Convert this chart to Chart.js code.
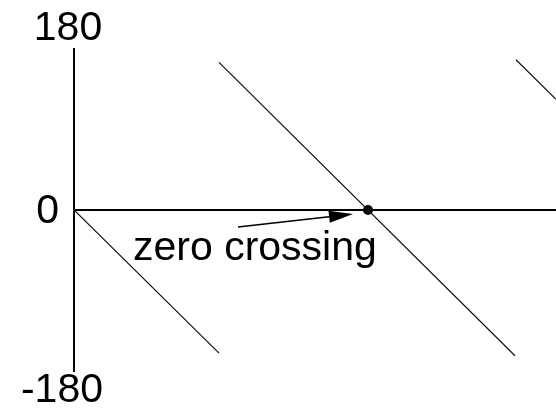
<!DOCTYPE html>
<html>
<head>
<meta charset="utf-8">
<script src="https://cdn.jsdelivr.net/npm/chart.js@4"></script>
<style>
html,body{margin:0;padding:0;background:#fff;}
#wrap{width:556px;height:410px;position:relative;}
</style>
</head>
<body>
<div id="wrap"><canvas id="c" width="556" height="410"></canvas></div>
<script>
// Phase (degrees) vs. frequency (arbitrary units) — sawtooth wrapping at ±180
const yTickLabels = ["180", "0", "-180"];
const yTickValues = [180, 0, -180];
const segX1 = [0, 145];   const segY1 = [0, -159];
const segX2 = [145, 441]; const segY2 = [164, -162];
const segX3 = [442, 482]; const segY3 = [167, 123];
const crossingX = [294];  const crossingY = [0];
const annotationText = "zero crossing";
const arrowFrom = [164, -19];
const arrowTo = [279, -4.5];
const textAt = [59, -56];

const toPts = (xs, ys) => xs.map((x, i) => ({x, y: ys[i]}));
const lineDs = (xs, ys) => ({
  type: 'line', data: toPts(xs, ys), borderColor: '#111', borderWidth: 1.2,
  pointRadius: 0, fill: false, tension: 0
});

const axesPlugin = {
  id: 'axesPlugin',
  beforeDatasetsDraw(chart) {
    const {ctx, chartArea: a, scales: {x, y}} = chart;
    ctx.save();
    ctx.strokeStyle = '#000';
    ctx.lineWidth = 2;
    ctx.beginPath();
    const x0 = x.getPixelForValue(0);
    ctx.moveTo(x0, a.top); ctx.lineTo(x0, a.bottom);
    const y0 = y.getPixelForValue(0);
    ctx.moveTo(a.left, y0); ctx.lineTo(a.right, y0);
    ctx.stroke();
    ctx.restore();
  },
  afterDatasetsDraw(chart) {
    const {ctx, scales: {x, y}} = chart;
    ctx.save();
    ctx.fillStyle = '#000';
    ctx.font = '41px "Liberation Sans", Arial, sans-serif';
    ctx.textBaseline = 'alphabetic';
    const x0 = x.getPixelForValue(0);
    ctx.textAlign = 'center';
    ctx.fillText(yTickLabels[0], x0 - 6, y.getPixelForValue(yTickValues[0]) - 8);
    ctx.textAlign = 'right';
    ctx.fillText(yTickLabels[1], x0 - 15, y.getPixelForValue(yTickValues[1]) + 13);
    ctx.textAlign = 'right';
    ctx.fillText(yTickLabels[2], x0 + 29, y.getPixelForValue(yTickValues[2]) + 30);
    ctx.textAlign = 'left';
    ctx.fillText(annotationText, x.getPixelForValue(textAt[0]), y.getPixelForValue(textAt[1]));
    const ax1 = x.getPixelForValue(arrowFrom[0]), ay1 = y.getPixelForValue(arrowFrom[1]);
    const ax2 = x.getPixelForValue(arrowTo[0]), ay2 = y.getPixelForValue(arrowTo[1]);
    const ang = Math.atan2(ay2 - ay1, ax2 - ax1);
    const hl = 24, hw = 6;
    ctx.strokeStyle = '#000';
    ctx.lineWidth = 1.5;
    ctx.beginPath();
    ctx.moveTo(ax1, ay1);
    ctx.lineTo(ax2 - Math.cos(ang) * hl, ay2 - Math.sin(ang) * hl);
    ctx.stroke();
    ctx.beginPath();
    ctx.moveTo(ax2, ay2);
    ctx.lineTo(ax2 - Math.cos(ang) * hl - Math.sin(ang) * hw, ay2 - Math.sin(ang) * hl + Math.cos(ang) * hw);
    ctx.lineTo(ax2 - Math.cos(ang) * hl + Math.sin(ang) * hw, ay2 - Math.sin(ang) * hl - Math.cos(ang) * hw);
    ctx.closePath();
    ctx.fill();
    ctx.restore();
  }
};

new Chart(document.getElementById('c'), {
  type: 'scatter',
  data: {
    datasets: [
      lineDs(segX1, segY1),
      lineDs(segX2, segY2),
      lineDs(segX3, segY3),
      {type: 'scatter', data: toPts(crossingX, crossingY), pointRadius: 5,
       backgroundColor: '#000', borderColor: '#000', borderWidth: 0}
    ]
  },
  options: {
    responsive: false,
    animation: false,
    devicePixelRatio: 1,
    layout: {autoPadding: false, padding: {left: 74, right: 0, top: 48, bottom: 38}},
    plugins: {legend: {display: false}, tooltip: {enabled: false}},
    scales: {
      x: {type: 'linear', min: 0, max: 482, display: false},
      y: {type: 'linear', min: -180, max: 180, display: false}
    }
  },
  plugins: [axesPlugin]
});
</script>
</body>
</html>
